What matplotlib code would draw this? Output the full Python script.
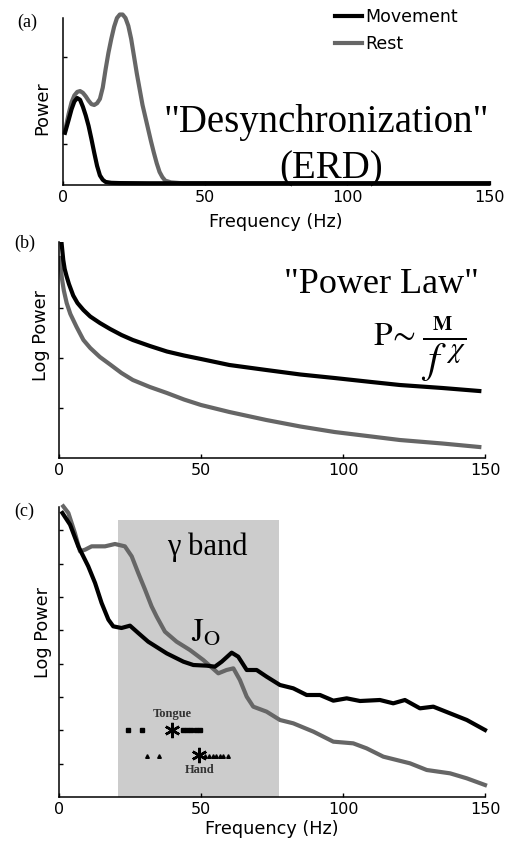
import matplotlib
matplotlib.use("Agg")
import matplotlib.pyplot as plt

# ---- data ----
# (a) ERD spectra, linear power
erd_freq_move = [0.7, 2, 3, 4, 5, 6, 7, 8, 9, 10, 11, 12, 13, 14, 15, 17, 20, 30, 50, 150]
erd_move = [0.6, 0.75, 0.87, 0.96, 1.0, 0.98, 0.9, 0.8, 0.68, 0.53, 0.37, 0.22, 0.11,
            0.06, 0.035, 0.025, 0.022, 0.02, 0.02, 0.02]
erd_freq_rest = [0.7, 2, 3, 4, 5, 6, 7, 8, 9, 10, 11, 12, 13, 14, 15, 16, 17, 18, 19, 20,
                 21, 22, 23, 24, 25, 26, 27, 28, 29, 30, 31, 32, 33, 34, 35, 36, 38, 42, 150]
erd_rest = [0.62, 0.82, 0.95, 1.03, 1.07, 1.08, 1.06, 1.02, 0.97, 0.93, 0.92, 0.94, 0.99,
            1.12, 1.33, 1.52, 1.68, 1.82, 1.92, 1.96, 1.96, 1.92, 1.83, 1.68, 1.48, 1.28,
            1.1, 0.92, 0.78, 0.64, 0.5, 0.37, 0.25, 0.15, 0.09, 0.05, 0.03, 0.02, 0.02]

# (b) power law, log power
pl_freq_move = [0.9, 1.5, 2, 2.7, 3.5, 5, 6.5, 8.6, 11, 14.4, 18, 22, 26, 32, 38, 44, 50,
                60, 73, 85, 97, 110, 120, 135, 148]
pl_move = [4.3, 3.96, 3.78, 3.63, 3.48, 3.25, 3.1, 2.96, 2.83, 2.7, 2.58, 2.46, 2.36, 2.24,
           2.13, 2.05, 1.98, 1.86, 1.76, 1.67, 1.6, 1.52, 1.46, 1.4, 1.34]
pl_freq_rest = [0.35, 1, 1.7, 2.7, 4, 6.2, 8.6, 11, 14.4, 18, 22, 26, 32, 38, 44, 50, 60,
                73, 85, 97, 110, 120, 135, 148]
pl_rest = [4.0, 3.6, 3.35, 3.1, 2.88, 2.62, 2.36, 2.2, 2.02, 1.87, 1.7, 1.56, 1.42, 1.3,
           1.17, 1.06, 0.92, 0.76, 0.63, 0.52, 0.43, 0.36, 0.29, 0.22]

# (c) ECoG spectra, log power
ecog_freq_move = [1.2, 3.9, 6.8, 10.3, 12.7, 15, 17.4, 19.1, 22, 25, 27.9, 31.4, 37.9,
                  43.8, 47.3, 52, 54.9, 57.3, 60.8, 63.1, 66.1, 69.6, 73.1, 77.8, 82.5,
                  87.2, 91.9, 96.6, 101.3, 106, 113, 117.7, 121.8, 127.1, 131.8, 137.7,
                  143.6, 150]
ecog_move = [8.52, 8.17, 7.52, 6.92, 6.42, 5.82, 5.32, 5.12, 5.07, 5.14, 4.92, 4.66, 4.31,
             4.06, 3.96, 3.94, 3.91, 4.06, 4.33, 4.21, 3.81, 3.81, 3.61, 3.36, 3.26, 3.06,
             3.06, 2.89, 2.96, 2.88, 2.91, 2.81, 2.91, 2.66, 2.71, 2.51, 2.31, 2.01]
ecog_freq_rest = [1.5, 3.3, 5.6, 7.4, 9.2, 11.5, 16.2, 19.7, 23.2, 25.6, 27.9, 30.3, 32.6,
                  34.4, 37.3, 41.4, 46.1, 50.8, 56.1, 59, 61.4, 63.7, 66.1, 68.4, 73.1,
                  77.8, 82.5, 89.6, 96.6, 103.6, 108.3, 114.2, 123.6, 129.5, 137.7, 143.6,
                  150]
ecog_rest = [8.72, 8.52, 7.92, 7.37, 7.42, 7.52, 7.52, 7.59, 7.52, 7.22, 6.72, 6.22, 5.72,
             5.41, 4.96, 4.66, 4.41, 4.11, 3.71, 3.81, 3.86, 3.51, 3.01, 2.71, 2.56, 2.31,
             2.21, 1.96, 1.66, 1.61, 1.46, 1.21, 1.01, 0.81, 0.71, 0.56, 0.36]

gamma_band = [20.7, 77.5]
gamma_top = 8.3

tongue_freqs = [24.4, 29.1, 43.8, 45.2, 46.6, 48.2, 49.7]
tongue_peak = 39.7
hand_freqs = [31.1, 35.2, 51.5, 52.8, 54.1, 55.4, 56.7, 57.9, 59.6]
hand_peak = 49.3

x_ticks = [0, 50, 100, 150]
x_ticklabels = ["0", "50", "100", "150"]

BLACK = "#000000"
GREY = "#666666"
SANS = "DejaVu Sans"
SERIF = "Liberation Serif"

plt.rcParams["mathtext.fontset"] = "stix"

fig = plt.figure(figsize=(5.14, 8.42), dpi=100)
W, H = 514.0, 842.0


def add_axes(left, right, top, bottom):
    return fig.add_axes([left / W, 1 - bottom / H, (right - left) / W, (bottom - top) / H])


def style(ax, yticks, ylabel, label_xy):
    ax.set_xlim(0, 150)
    ax.set_xticks(x_ticks)
    ax.set_xticklabels(x_ticklabels, fontsize=11.5, family=SANS)
    ax.set_yticks(yticks)
    ax.set_yticklabels([])
    ax.tick_params(direction="in", length=3, width=1)
    for s in ["top", "right"]:
        ax.spines[s].set_visible(False)
    for s in ["left", "bottom"]:
        ax.spines[s].set_linewidth(1.1)
    ax.set_ylabel(ylabel, fontsize=12.7, family=SANS)
    ax.yaxis.set_label_coords(*label_xy)


# ---- (a) ----
ax1 = add_axes(63, 489, 18, 185)
ax1.plot(erd_freq_move, erd_move, color=BLACK, lw=3, label="Movement", clip_on=False, zorder=3)
ax1.plot(erd_freq_rest, erd_rest, color=GREY, lw=3, label="Rest", clip_on=False, zorder=2)
ax1.set_ylim(0, 1.92)
style(ax1, [0.47, 1.47], "Power", (-0.028, 0.46))
ax1.set_xlabel("Frequency (Hz)", fontsize=12.7, family=SANS, labelpad=6)
ax1.legend(loc="upper left", bbox_to_anchor=((335 - 63) / 426, 1.06), frameon=False,
           prop={"family": SANS, "size": 12.5}, handlelength=1.55, handletextpad=0.2,
           borderpad=0, borderaxespad=0, labelspacing=0.5)
ax1.text(92.6, 0.61, '"Desynchronization"', family=SERIF, fontsize=28,
         ha="center", va="baseline")
ax1.text(94.3, 0.08, "(ERD)", family=SERIF, fontsize=28, ha="center", va="baseline")
fig.text(17 / W, 1 - 22 / H, "(a)", family=SERIF, fontsize=13, va="center")

# ---- (b) ----
ax2 = add_axes(59, 485, 242, 458)
ax2.plot(pl_freq_move, pl_move, color=BLACK, lw=3, zorder=3)
ax2.plot(pl_freq_rest, pl_rest, color=GREY, lw=3, zorder=2)
ax2.set_ylim(0, 4.32)
style(ax2, [1, 2, 3], "Log Power", (-0.021, 0.565))
ax2.text(113.6, 3.3, '"Power Law"', family=SERIF, fontsize=26, ha="center", va="baseline")
ax2.text(110.6, 2.26, r"$\mathrm{P}\!\sim$", fontsize=24, ha="left", va="baseline")
ax2.text(127.5, 2.22, r"$\dfrac{{}_{{}_{\mathbf{M}}}}{\,f^{\;\chi}}$", fontsize=30,
         ha="left", va="baseline")
fig.text(14 / W, 1 - 243 / H, "(b)", family=SERIF, fontsize=13, va="center")

# ---- (c) ----
ax3 = add_axes(59, 485, 507, 797)
ax3.fill_between(gamma_band, 0, gamma_top, color="#cccccc", lw=0, zorder=1)
ax3.plot(ecog_freq_move, ecog_move, color=BLACK, lw=3, zorder=3, clip_on=False)
ax3.plot(ecog_freq_rest, ecog_rest, color=GREY, lw=3, zorder=2, clip_on=False)
ax3.set_ylim(0, 8.7)
style(ax3, [1, 2, 3, 4, 5, 6, 7, 8], "Log Power", (-0.016, 0.566))
ax3.set_xlabel("Frequency (Hz)", fontsize=12.7, family=SANS, labelpad=2)
ax3.text(52.1, 7.27, "\u03b3 band", family=SERIF, fontsize=22, ha="center", va="baseline")
ax3.text(46.5, 4.66, r"$\mathrm{J}_{\mathrm{O}}$", fontsize=23, ha="left", va="baseline")

ax3.plot(tongue_freqs, [2.0] * len(tongue_freqs), ls="none", marker="s", ms=2.3,
         color=BLACK, zorder=4)
ax3.plot([tongue_peak], [2.0], ls="none", marker=(6, 2, 0), ms=11, mew=1.8,
         color=BLACK, zorder=4)
ax3.plot(hand_freqs, [1.22] * len(hand_freqs), ls="none", marker="^", ms=2.6,
         color=BLACK, zorder=4)
ax3.plot([hand_peak], [1.27], ls="none", marker=(6, 2, 0), ms=11, mew=1.8,
         color=BLACK, zorder=4)
ax3.text(39.9, 2.5, "Tongue", family=SERIF, fontsize=9, color="#333333",
         ha="center", va="center", fontweight="bold")
ax3.text(49.4, 0.81, "Hand", family=SERIF, fontsize=9, color="#333333",
         ha="center", va="center", fontweight="bold")
fig.text(14 / W, 1 - 511 / H, "(c)", family=SERIF, fontsize=13, va="center")

fig.savefig("out.png", dpi=100)
